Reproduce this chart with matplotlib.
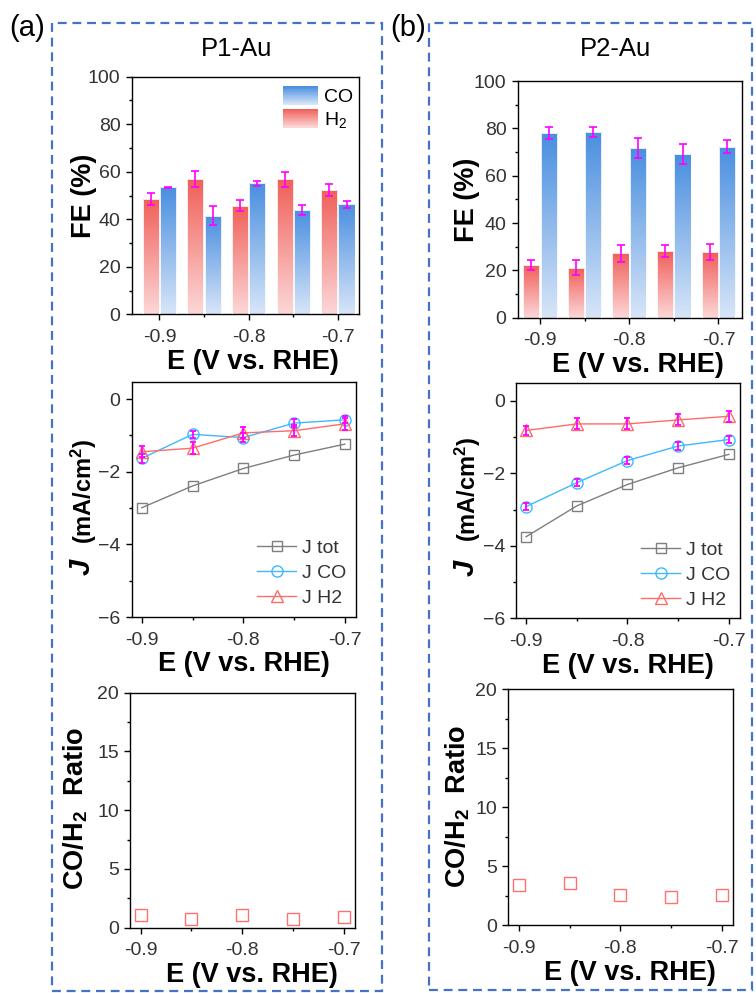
import numpy as np
import matplotlib
matplotlib.use("Agg")
import matplotlib.pyplot as plt
from matplotlib.patches import Rectangle
from matplotlib.legend_handler import HandlerBase
from matplotlib.colors import to_rgb
from matplotlib.ticker import MultipleLocator, FuncFormatter

plt.rcParams['font.family'] = ['Liberation Sans', 'DejaVu Sans']
plt.rcParams['mathtext.fontset'] = 'custom'
plt.rcParams['mathtext.rm'] = 'Liberation Sans'
plt.rcParams['mathtext.bf'] = 'Liberation Sans:bold'
plt.rcParams['mathtext.it'] = 'Liberation Sans:italic'

# ---- data ----
potential = [-0.9, -0.85, -0.8, -0.75, -0.7]

p1_fe_h2 = [48.4, 56.8, 45.7, 56.8, 52.3]
p1_fe_h2_err = [2.6, 3.4, 2.2, 3.2, 2.5]
p1_fe_co = [53.4, 41.4, 55.1, 44.0, 46.3]
p1_fe_co_err = [0.3, 4.0, 1.0, 2.2, 1.5]

p2_fe_h2 = [22.3, 21.1, 27.2, 28.3, 27.7]
p2_fe_h2_err = [2.0, 3.1, 3.7, 2.5, 3.4]
p2_fe_co = [77.9, 78.5, 71.7, 69.0, 72.3]
p2_fe_co_err = [2.6, 2.0, 4.4, 4.2, 2.9]

p1_j_tot = [-2.99, -2.39, -1.91, -1.54, -1.24]
p1_j_co = [-1.63, -0.97, -1.06, -0.66, -0.57]
p1_j_co_err = [0.12, 0.10, 0.12, 0.10, 0.10]
p1_j_h2 = [-1.45, -1.35, -0.93, -0.87, -0.68]
p1_j_h2_err = [0.15, 0.17, 0.15, 0.15, 0.17]

p2_j_tot = [-3.75, -2.90, -2.31, -1.85, -1.48]
p2_j_co = [-2.92, -2.26, -1.65, -1.25, -1.07]
p2_j_co_err = [0.10, 0.10, 0.10, 0.10, 0.10]
p2_j_h2 = [-0.82, -0.64, -0.64, -0.53, -0.43]
p2_j_h2_err = [0.12, 0.15, 0.15, 0.15, 0.15]

p1_ratio = [1.05, 0.70, 1.12, 0.72, 0.88]
p2_ratio = [3.42, 3.56, 2.54, 2.40, 2.54]

# ---- styling ----
CO_TOP, CO_BOT = '#4a8fe0', '#d7e5f8'
H2_TOP, H2_BOT = '#f0605a', '#fcd7d7'
ERR_C = '#ff00ff'
TOT_C, JCO_C, JH2_C = '#7f7f7f', '#3fb8ff', '#ff6b6b'
RATIO_C = '#ff7070'
TICK_C = '#333333'
FRAME_C = '#4472c4'
TICK_FS = 14
LABEL_FS = 19.5

W, H = 756, 993
fig = plt.figure(figsize=(W / 100, H / 100), dpi=100)


def add_ax(l, t, r, b):
    return fig.add_axes([l / W, 1 - b / H, (r - l) / W, (b - t) / H])


def style_ax(ax, xlim, ylim, ymaj, ymin, label_x=0.5):
    ax.set_xlim(*xlim)
    ax.set_ylim(*ylim)
    ax.xaxis.set_major_locator(MultipleLocator(0.1))
    ax.xaxis.set_minor_locator(MultipleLocator(0.05))
    ax.yaxis.set_major_locator(MultipleLocator(ymaj))
    ax.yaxis.set_minor_locator(MultipleLocator(ymin))
    ax.xaxis.set_major_formatter(FuncFormatter(lambda v, p: f"{v:.1f}"))
    ax.tick_params(which='major', direction='out', length=4, width=1,
                   labelsize=TICK_FS, labelcolor=TICK_C)
    ax.tick_params(axis='x', which='major', pad=6.5)
    ax.tick_params(axis='y', which='major', pad=4)
    ax.tick_params(which='minor', direction='out', length=2.2, width=1)
    for s in ax.spines.values():
        s.set_linewidth(1.0)
    ax.set_xlabel('E (V vs. RHE)', fontsize=LABEL_FS, fontweight='bold',
                  labelpad=2)
    ax.xaxis.label.set_x(label_x)


def gradient(c_top, c_bot, n=64):
    t = np.linspace(0, 1, n)[:, None]
    a, b = np.array(to_rgb(c_top)), np.array(to_rgb(c_bot))
    return (b[None, :] * (1 - t) + a[None, :] * t)[:, None, :]  # row 0 = bottom


def gradient_bars(ax, xs, hs, width, c_top, c_bot):
    bars = ax.bar(xs, hs, width=width, color='none', edgecolor='white',
                  linewidth=0.6, zorder=3)
    img = gradient(c_top, c_bot)
    for rect in bars:
        x0, h = rect.get_x(), rect.get_height()
        im = ax.imshow(img, extent=[x0, x0 + width, 0, h], origin='lower',
                       aspect='auto', zorder=2, interpolation='bilinear')
        im.set_clip_path(rect)
    return bars


class GradientHandler(HandlerBase):
    def __init__(self, c_top, c_bot, n=24):
        super().__init__()
        self.c_top, self.c_bot, self.n = c_top, c_bot, n

    def create_artists(self, legend, orig_handle, xdescent, ydescent,
                       width, height, fontsize, trans):
        a, b = np.array(to_rgb(self.c_top)), np.array(to_rgb(self.c_bot))
        arts = []
        hh = height * 1.25
        y0 = -ydescent - (hh - height) / 2
        for i in range(self.n):
            t = i / (self.n - 1)
            col = b * (1 - t) + a * t
            arts.append(Rectangle((-xdescent, y0 + hh * i / self.n), width,
                                  hh / self.n + 0.3, facecolor=col,
                                  edgecolor='none', transform=trans))
        return arts


def fe_panel(ax, fe_h2, h2_err, fe_co, co_err, xlim, legend=False):
    x = np.array(potential)
    w, off = 0.0182, 0.0097
    h2_bars = gradient_bars(ax, x - off, fe_h2, w, H2_TOP, H2_BOT)
    co_bars = gradient_bars(ax, x + off, fe_co, w, CO_TOP, CO_BOT)
    ax.errorbar(x - off, fe_h2, yerr=h2_err, fmt='none', ecolor=ERR_C,
                elinewidth=1.2, capsize=3, capthick=1.2, zorder=5)
    ax.errorbar(x + off, fe_co, yerr=co_err, fmt='none', ecolor=ERR_C,
                elinewidth=1.2, capsize=3, capthick=1.2, zorder=5)
    style_ax(ax, xlim, (0, 100), 20, 10, label_x=0.535)
    if legend:
        ax.legend([co_bars, h2_bars], ['CO', 'H$_2$'],
                  handler_map={co_bars: GradientHandler(CO_TOP, CO_BOT),
                               h2_bars: GradientHandler(H2_TOP, H2_BOT)},
                  loc='upper right', frameon=False, fontsize=14,
                  handlelength=1.85, handleheight=0.8, handletextpad=0.3,
                  labelspacing=0.2, borderaxespad=0.0,
                  bbox_to_anchor=(1.012, 0.985))


def j_panel(ax, jtot, jco, jco_err, jh2, jh2_err):
    x = potential
    ax.plot(x, jtot, '-s', color=TOT_C, mfc='none', mec=TOT_C, ms=7.5,
            mew=1.0, lw=1.0, label='J tot', zorder=3)
    ax.plot(x, jco, '-o', color=JCO_C, mfc='none', mec=JCO_C, ms=8,
            mew=1.0, lw=1.0, label='J CO', zorder=3)
    ax.plot(x, jh2, '-^', color=JH2_C, mfc='none', mec=JH2_C, ms=8.5,
            mew=1.0, lw=1.0, label='J H2', zorder=3)
    ax.errorbar(x, jco, yerr=jco_err, fmt='none', ecolor=ERR_C,
                elinewidth=1.3, capsize=2, capthick=1.3, zorder=4)
    ax.errorbar(x, jh2, yerr=jh2_err, fmt='none', ecolor=ERR_C,
                elinewidth=1.3, capsize=2, capthick=1.3, zorder=4)
    style_ax(ax, (-0.91, -0.689), (-6, 0.48), 2, 1)
    ax.legend(loc='lower right', frameon=False, fontsize=14, numpoints=1,
              handlelength=2.0, handletextpad=0.3, labelspacing=0.38,
              borderaxespad=0.1, bbox_to_anchor=(1.0, 0.0),
              labelcolor=TICK_C)


def ratio_panel(ax, ratio):
    ax.plot(potential, ratio, 's', mfc='none', mec=RATIO_C, ms=8, mew=1.0,
            zorder=3)
    style_ax(ax, (-0.9105, -0.689), (0, 20), 5, 2.5, label_x=0.54)


# ---- panel (a): P1-Au ----
ax1 = add_ax(131.7, 76.7, 358.5, 314.3)
fe_panel(ax1, p1_fe_h2, p1_fe_h2_err, p1_fe_co, p1_fe_co_err, (-0.931, -0.677), legend=True)
ax2 = add_ax(131.7, 381.7, 356.0, 617.0)
j_panel(ax2, p1_j_tot, p1_j_co, p1_j_co_err, p1_j_h2, p1_j_h2_err)
ax3 = add_ax(130.0, 692.7, 355.0, 927.7)
ratio_panel(ax3, p1_ratio)

# ---- panel (b): P2-Au ----
bx1 = add_ax(517.7, 81.0, 741.7, 317.7)
fe_panel(bx1, p2_fe_h2, p2_fe_h2_err, p2_fe_co, p2_fe_co_err, (-0.925, -0.674))
bx2 = add_ax(516.0, 383.3, 740.0, 618.3)
j_panel(bx2, p2_j_tot, p2_j_co, p2_j_co_err, p2_j_h2, p2_j_h2_err)
bx3 = add_ax(508.3, 689.3, 733.0, 925.3)
ratio_panel(bx3, p2_ratio)


def ftext(px, py, s, **kw):
    fig.text(px / W, 1 - py / H, s, **kw)


# y-axis labels
for xc, yc in [(84, 196), (467, 200)]:
    ftext(xc, yc, 'FE (%)', rotation=90, ha='center', va='center',
          fontsize=LABEL_FS, fontweight='bold')
for xc, yj, ym in [(82, 567, 491), (466, 568, 489)]:
    ftext(xc, yj, 'J', rotation=90, ha='center', va='center', fontsize=21,
          fontweight='bold', fontstyle='italic')
    ftext(xc + 2, ym, r'(mA/cm$\mathbf{^2}$)', rotation=90, ha='center',
          va='center', fontsize=17, fontweight='bold')
for xc, yc in [(76, 808), (458, 806)]:
    ftext(xc, yc, r'CO/H$\mathbf{_2}$  Ratio', rotation=90, ha='center',
          va='center', fontsize=LABEL_FS, fontweight='bold')

# titles and panel tags
ftext(237, 49, 'P1-Au', ha='center', va='center', fontsize=18.5)
ftext(616, 49, 'P2-Au', ha='center', va='center', fontsize=18.5)
ftext(27, 28, '(a)', ha='center', va='center', fontsize=21)
ftext(408, 28, '(b)', ha='center', va='center', fontsize=21)

# dashed panel frames
for l, t, r, b in [(52, 23, 382, 991), (429, 23, 752, 990)]:
    fig.patches.append(Rectangle((l / W, 1 - b / H), (r - l) / W, (b - t) / H,
                                 transform=fig.transFigure, fill=False,
                                 edgecolor=FRAME_C, linewidth=1.6,
                                 linestyle=(0, (4, 2.6)), clip_on=False))

fig.savefig('out.png', dpi=100)
